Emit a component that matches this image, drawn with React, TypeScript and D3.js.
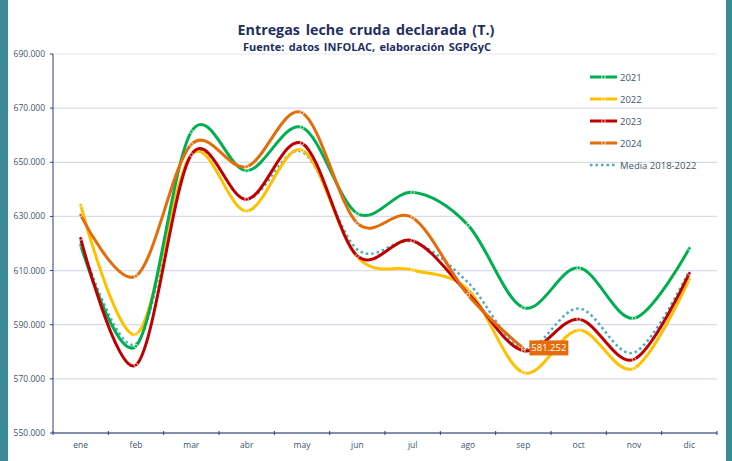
import React from "react";
import * as d3 from "d3";

const months = ["ene", "feb", "mar", "abr", "may", "jun", "jul", "ago", "sep", "oct", "nov", "dic"];
const yTicks = [550000, 570000, 590000, 610000, 630000, 650000, 670000, 690000];

const s2021 = [619400, 582100, 661300, 646900, 662900, 631100, 638900, 626800, 596300, 611000, 592400, 618200];
const s2022 = [634200, 586500, 652800, 632000, 654500, 615000, 610200, 603000, 572300, 588000, 573900, 606800];
const s2023 = [621900, 575100, 652800, 636300, 657000, 615400, 621000, 601600, 580400, 592000, 577200, 609000];
const s2024 = [630500, 608000, 656600, 648400, 668300, 627500, 629500, 601000, 581252];
const sMedia = [620700, 583000, 652800, 636300, 653900, 617800, 620700, 605600, 581000, 596000, 579700, 610000];

const seriesNames = ["2021", "2022", "2023", "2024", "Media 2018-2022"];
const annotationValue = "581.252";

const W = 732, H = 461;
const left = 53, right = 717, top = 54, bottom = 433;

export default function App() {
  const x = d3.scaleBand<string>().domain(months).range([left, right]);
  const y = d3.scaleLinear().domain([550000, 690000]).range([bottom, top]);
  const cx = (i: number) => (x(months[i]) as number) + x.bandwidth() / 2;
  const line = d3
    .line<number>()
    .x((_, i) => cx(i))
    .y((d) => y(d))
    .curve(d3.curveCardinal.tension(0));
  const fmt = (v: number) => d3.format(",")(v).replace(/,/g, ".");

  const series = [
    { name: seriesNames[0], data: s2021, color: "#00B050", dotted: false },
    { name: seriesNames[1], data: s2022, color: "#FFC000", dotted: false },
    { name: seriesNames[2], data: s2023, color: "#C00000", dotted: false },
    { name: seriesNames[3], data: s2024, color: "#E46C0A", dotted: false },
    { name: seriesNames[4], data: sMedia, color: "#4BACC6", dotted: true },
  ];
  const drawOrder = [4, 1, 0, 2, 3];
  const axisColor = "#2F3E7A";
  const textColor = "#44546A";
  const font = "'Open Sans', 'Noto Sans', sans-serif";

  const annoX = cx(8);
  const annoY = y(s2024[8]);

  return (
    <div style={{ position: "fixed", left: 0, top: 0 }}>
      <svg width={W} height={H} style={{ display: "block", background: "#fff" }}>
        <rect x={0} y={0} width={8} height={H} fill="#3A8A98" />
        <rect x={726} y={0} width={6} height={H} fill="#3A8A98" />
        <text x={366} y={35} textAnchor="middle" fontFamily={font} fontWeight="bold" fontSize={14.3} fill="#1F2F5F" wordSpacing={2}>
          Entregas leche cruda declarada (T.)
        </text>
        <text x={367} y={51} textAnchor="middle" fontFamily={font} fontWeight="bold" fontSize={11} fill="#1F2F5F" wordSpacing={1.5}>
          Fuente: datos INFOLAC, elaboración SGPGyC
        </text>
        {yTicks.map((t) => (
          <g key={t}>
            {t !== 550000 && (
              <line x1={left} x2={right} y1={y(t)} y2={y(t)} stroke={t === 690000 ? "#E4E8EE" : "#D9DCE8"} strokeWidth={1.2} />
            )}
            <line x1={left - 3} x2={left} y1={y(t)} y2={y(t)} stroke={axisColor} />
            <text x={45} y={y(t) + 3} textAnchor="end" fontFamily={font} fontSize={8.5} fill={textColor}>
              {fmt(t)}
            </text>
          </g>
        ))}
        <line x1={left} x2={left} y1={top} y2={bottom} stroke={axisColor} strokeWidth={1} />
        <line x1={left} x2={right} y1={bottom} y2={bottom} stroke="#5A6A94" strokeWidth={1.5} />
        {months.map((m, i) => (
          <g key={m}>
            <line x1={x(m) as number} x2={x(m) as number} y1={bottom - 2} y2={bottom + 2} stroke={axisColor} />
            <text x={cx(i)} y={448} textAnchor="middle" fontFamily={font} fontSize={8.5} fill={textColor}>
              {m}
            </text>
          </g>
        ))}
        <line x1={right} x2={right} y1={bottom - 2} y2={bottom + 2} stroke={axisColor} />
        {drawOrder.map((k) => {
          const s = series[k];
          return (
            <g key={s.name}>
              <path
                d={line(s.data) || ""}
                fill="none"
                stroke={s.color}
                strokeWidth={s.dotted ? 2.5 : 3}
                strokeDasharray={s.dotted ? "2.5 3" : undefined}
              />
              {!s.dotted &&
                s.data.map((v, i) => (
                  <circle key={i} cx={cx(i)} cy={y(v)} r={1.8} fill={s.color} stroke="#fff" strokeWidth={0.7} />
                ))}
            </g>
          );
        })}
        <rect x={annoX + 6} y={annoY - 8} width={39} height={15} fill="#E46C0A" />
        <text x={annoX + 25.5} y={annoY + 3} textAnchor="middle" fontFamily={font} fontSize={9.5} fill="#fff">
          {annotationValue}
        </text>
        {series.map((s, i) => {
          const ly = 77 + i * 22;
          return (
            <g key={s.name}>
              <line x1={590} x2={617} y1={ly} y2={ly} stroke={s.color} strokeWidth={s.dotted ? 2.5 : 3} strokeDasharray={s.dotted ? "2.5 3" : undefined} />
              {!s.dotted && <circle cx={603.5} cy={ly} r={1.8} fill={s.color} stroke="#fff" strokeWidth={0.7} />}
              <text x={620} y={ly + 3.5} fontFamily={font} fontSize={9.5} fill={textColor}>
                {s.name}
              </text>
            </g>
          );
        })}
      </svg>
    </div>
  );
}
